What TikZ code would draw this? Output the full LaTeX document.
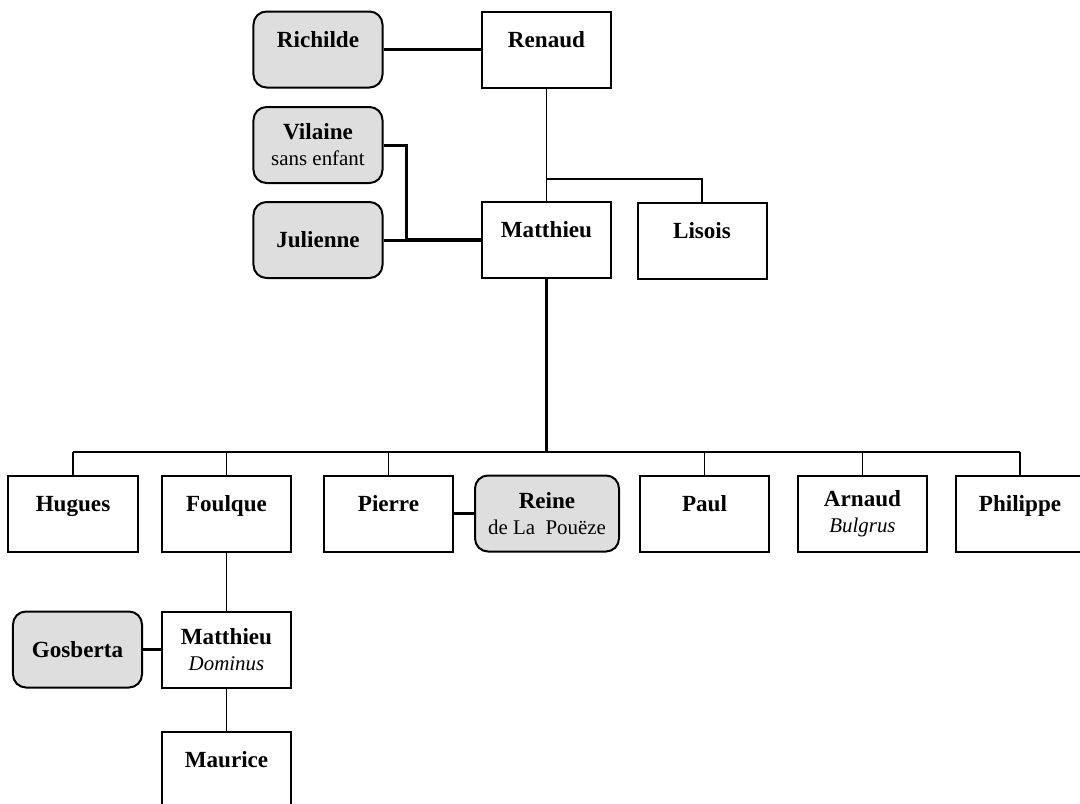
\documentclass[tikz,border=0pt]{standalone}
\usepackage{fontspec}
\setmainfont{Liberation Serif}
\definecolor{spouse}{HTML}{DEDEDE}
\newcommand{\psub}[1]{{\fontsize{10.5}{13}\selectfont\mdseries #1}}

\begin{document}
\begin{tikzpicture}[x=0.5bp, y=-0.5bp,
  font=\fontsize{11.6}{13}\selectfont\bfseries,
  pers/.style={draw, line width=1bp, minimum width=64.5bp, minimum height=38bp, inner sep=0pt, align=center},
  wife/.style={pers, fill=spouse, rounded corners=6.5bp},
  hitext/.style={text height=8bp, text depth=10.5bp},
  kin/.style={line width=0.75bp},
  wed/.style={line width=1.5bp},
  wedx/.style={line width=2.3bp}]
  \clip (0,0) rectangle (1080,804);

  % Renaud and Richilde
  \node[wife, hitext] (richilde) at (318,49.5) {Richilde};
  \node[pers, hitext] (renaud) at (546.5,49.5) {Renaud};

  % Matthieu, his wives, Lisois
  \node[wife] (vilaine) at (318,145) {Vilaine\\\psub{sans enfant}};
  \node[wife] (julienne) at (318,240) {Julienne};
  \node[pers, hitext] (matthieu) at (546.5,240) {Matthieu};
  \node[pers, hitext] (lisois) at (702,240.5) {Lisois};

  % children of Matthieu
  \node[pers, hitext] (hugues) at (73,513.5) {Hugues};
  \node[pers, hitext] (foulque) at (226.5,513.5) {Foulque};
  \node[pers, hitext] (pierre) at (388.5,513.5) {Pierre};
  \node[wife, minimum width=72bp] (reine) at (547,513.5) {Reine\\\psub{de La~ Pouëze}};
  \node[pers, hitext] (paul) at (704.5,513.5) {Paul};
  \node[pers] (arnaud) at (862.5,513.5) {Arnaud\\\psub{\itshape Bulgrus}};
  \node[pers, hitext] (philippe) at (1020,513.5) {Philippe};

  % line of Foulque
  \node[wife] (gosberta) at (77.5,649.5) {Gosberta};
  \node[pers] (matthieuB) at (226.5,649.5) {Matthieu\\\psub{\itshape Dominus}};
  \node[pers, hitext] (maurice) at (226.5,770) {Maurice};

  % junctions
  \coordinate (rj) at (546.5,179);
  \coordinate (vj) at (406,240);
  \coordinate (mj) at (546.5,452);

  % connectors
  \draw[wed] (richilde) -- (renaud);
  \draw[kin] (renaud) -- (matthieu);
  \draw[kin] (rj) -| (lisois);
  \draw[wed] (vilaine.east) -| (vj) -- (julienne.east);
  \draw[wedx] (vj) -- (matthieu.west);
  \draw[wed] (matthieu.south) -- (mj);
  \draw[kin] (hugues.north |- mj) -- (philippe.north |- mj);
  \foreach \c in {hugues,foulque,pierre,paul,arnaud,philippe}
    \draw[kin] (\c.north) -- (\c.north |- mj);
  \draw[wed] (pierre) -- (reine);
  \draw[kin] (foulque) -- (matthieuB);
  \draw[wed] (gosberta) -- (matthieuB);
  \draw[kin] (matthieuB) -- (maurice);
\end{tikzpicture}
\end{document}
